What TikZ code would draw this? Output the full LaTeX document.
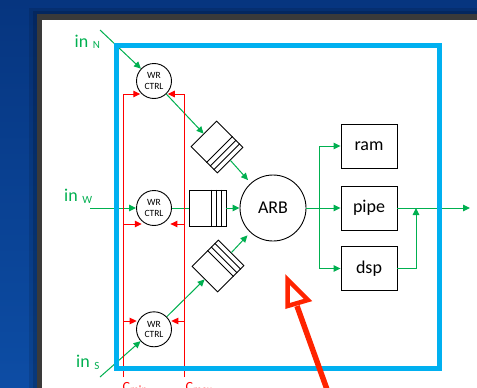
\documentclass[tikz,border=0pt]{standalone}
\usepackage{fontspec}
\setmainfont{Carlito}
\usetikzlibrary{arrows.meta,calc}
\definecolor{bgtop}{HTML}{06357F}
\definecolor{bgbot}{HTML}{0D4DA5}
\definecolor{pageedge}{HTML}{3A3A3A}
\definecolor{frameblue}{HTML}{00B0F0}
\definecolor{ogreen}{HTML}{00B050}
\definecolor{ored}{HTML}{FF0000}
\definecolor{bigred}{HTML}{FF2400}
\begin{document}
\begin{tikzpicture}[x=1pt,y=1pt,
  wrctrl/.style={circle,draw=black,line width=0.9pt,minimum size=35pt,inner sep=0pt,align=center,font=\fontsize{9.5}{10.5}\selectfont},
  fifo/.style={rectangle,draw=black,line width=0.9pt,minimum width=37pt,minimum height=36pt,inner sep=0pt},
  unitbox/.style={rectangle,draw=black,line width=0.9pt,minimum width=56pt,minimum height=44pt,inner sep=0pt,font=\fontsize{18}{18}\selectfont},
  arbnode/.style={circle,draw=black,line width=0.9pt,minimum size=66pt,inner sep=0pt,font=\fontsize{18}{18}\selectfont},
  gflow/.style={draw=ogreen,line width=1pt,-{Triangle[length=7pt,width=6.5pt]}},
  gline/.style={draw=ogreen,line width=1pt},
  rflow/.style={draw=ored,line width=1pt,-{Triangle[length=7pt,width=6.5pt]}},
  inlabel/.style={text=ogreen,inner sep=0pt,anchor=base west},
  clabel/.style={text=ored,inner sep=0pt,anchor=base west},
]
\useasboundingbox (0,0) rectangle (477,-388);
% slide background and page
\shade[top color=bgtop,bottom color=bgbot] (0,0) rectangle (477,-388);
\fill[black,opacity=0.12] (29,-8) rectangle (477,-388);
\fill[black,opacity=0.15] (33,-11) rectangle (477,-388);
\fill[pageedge] (37,-14) rectangle (477,-388);
\fill[white] (42,-19.5) rectangle (477,-388);

% nodes
\node[wrctrl] (wrN) at (154,-81) {WR\\CTRL};
\node[wrctrl] (wrW) at (154,-208) {WR\\CTRL};
\node[wrctrl] (wrS) at (154,-329.3) {WR\\CTRL};
\node[fifo] (fW) at (207.5,-208) {};
\node[fifo,rotate=-45] (fN) at (217,-147) {};
\node[fifo,rotate=45] (fS) at (218,-266) {};
\foreach \f in {fW,fN,fS}
  \foreach \t in {0.135,0.27,0.405}
    \draw[line width=0.9pt] ($(\f.north east)!\t!(\f.north west)$) -- ($(\f.south east)!\t!(\f.south west)$);
\node[arbnode] (arb) at (273,-208) {ARB};
\node[unitbox] (ram) at (369,-146) {ram};
\node[unitbox] (pipe) at (369,-208) {pipe};
\node[unitbox] (dsp) at (369,-268.5) {dsp};

% coordinates
\coordinate (inN) at (100,-30);
\coordinate (inW) at (90,-208);
\coordinate (inS) at (100,-377);
\coordinate (jn) at (319,-208);
\coordinate (out) at (470,-208);
\coordinate (mrg) at (416,-208);
\coordinate (cminTop) at (123,-94);
\coordinate (cminBot) at (123,-377);
\coordinate (cmaxTop) at (184,-94);
\coordinate (cmaxBot) at (184,-377);
\coordinate (cminW) at (123,-224);
\coordinate (cmaxW) at (184,-224);
\coordinate (cminS) at (123,-321);
\coordinate (cmaxS) at (184,-321);

% green data flow
\draw[gflow] (inN) -- (wrN);
\draw[gflow] (wrN) -- (fN.west);
\draw[gflow,shorten >=4pt] (fN.east) -- (arb);
\draw[gflow] (inW) -- (wrW);
\draw[gline] (wrW) -- (fW.west);
\draw[gflow] (fW.east) -- (arb);
\draw[gflow] (inS) -- (wrS);
\draw[gflow] (wrS) -- (fS.west);
\draw[gflow,shorten >=4pt] (fS.east) -- (arb);
\draw[gline] (arb) -- (jn);
\draw[gflow] (jn) |- (ram);
\draw[gflow] (jn) -- (pipe);
\draw[gflow] (jn) |- (dsp);
\draw[gflow] (pipe) -- (out);
\draw[gflow] (dsp) -| (mrg);

% red credit lines
\draw[rflow] (cminBot) -- (cminTop) -- (cminTop -| wrN.220);
\draw[rflow] (cmaxBot) -- (cmaxTop) -- (cmaxTop -| wrN.-40);
\draw[rflow] (cminW) -- (cminW -| wrW.227);
\draw[rflow] (cmaxW) -- (cmaxW -| wrW.-24);
\draw[rflow] (cminS) -- (cminS -| wrS.165);
\draw[rflow] (cmaxS) -- (cmaxS -| wrS.15);

% labels
\node[inlabel] (lN) at (74.5,-47.5) {\fontsize{18}{18}\selectfont in\hspace{4.5pt}\raisebox{-1.5pt}{\fontsize{11}{11}\selectfont N}};
\node[inlabel] (lW) at (64,-201.7) {\fontsize{18}{18}\selectfont in\hspace{4.5pt}\raisebox{-2pt}{\fontsize{11}{11}\selectfont W}};
\node[inlabel] (lS) at (76,-367.7) {\fontsize{18}{18}\selectfont in\hspace{4.5pt}\raisebox{-2pt}{\fontsize{11}{11}\selectfont S}};
\node[clabel] (lmin) at (122.5,-391) {\fontsize{14}{14}\selectfont C\raisebox{-2pt}{\fontsize{11}{11}\selectfont min}};
\node[clabel] (lmax) at (185.5,-391) {\fontsize{14}{14}\selectfont C\raisebox{-2pt}{\fontsize{11}{11}\selectfont max}};

% frame
\draw[frameblue,line width=5pt] (116.8,-45.8) rectangle (439.7,-368);

% big red pointer
\draw[bigred,line width=5.5pt] (329,-395) -- (297,-306);
\draw[bigred,line width=4.5pt,fill=white,line join=miter] (287.5,-279.5) -- (308,-300) -- (287.5,-306) -- cycle;
\end{tikzpicture}
\end{document}
